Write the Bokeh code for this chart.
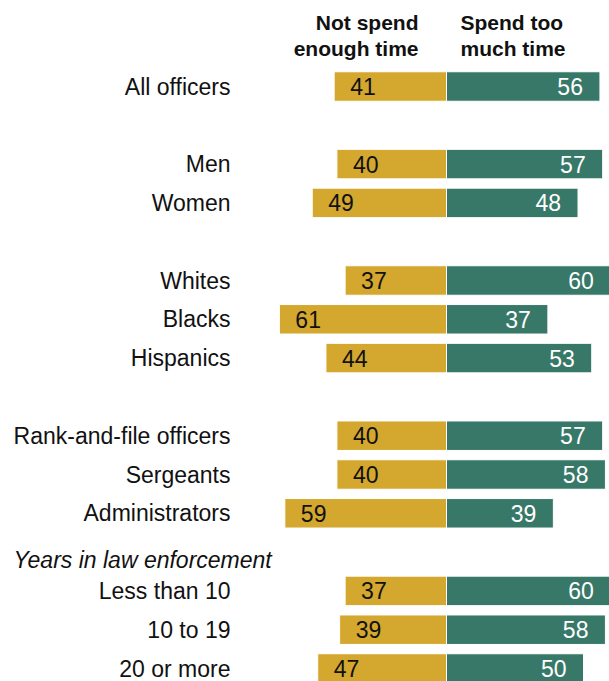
from bokeh.plotting import figure
from bokeh.models import Range1d, ColumnDataSource, Label
from bokeh.core.properties import value
from bokeh.embed import file_html
from bokeh.resources import INLINE

# ---- data ----
groups = [
    ["All officers"],
    ["Men", "Women"],
    ["Whites", "Blacks", "Hispanics"],
    ["Rank-and-file officers", "Sergeants", "Administrators"],
    ["Less than 10", "10 to 19", "20 or more"],
]
group_heading = [None, None, None, None, "Years in law enforcement"]
not_enough = [41, 40, 49, 37, 61, 44, 40, 40, 59, 37, 39, 47]
too_much = [56, 57, 48, 60, 37, 53, 57, 58, 39, 60, 58, 50]
header_left = ["Not spend", "enough time"]
header_right = ["Spend too", "much time"]

# ---- layout ----
W, H = 609, 681
PX_PER_UNIT = 2.74
CENTER_PX = 446
ROW_PX = 38.8
FIRST_ROW_PX = 86
GOLD = "#D4A72F"
TEAL = "#387868"
FONT = "Liberation Sans"

categories, rows, heading_rows, headings = [], [], [], []
r = -2
for gi, g in enumerate(groups):
    r += 1
    if group_heading[gi]:
        heading_rows.append(r)
        headings.append(group_heading[gi])
    r += 1
    for c in g:
        categories.append(c)
        rows.append(r)
        r += 1
    r -= 1

src = ColumnDataSource(dict(
    y=rows, cat=categories,
    ne_left=[-v for v in not_enough],
    tm=too_much,
    ne_txt=[str(v) for v in not_enough],
    tm_txt=[str(v) for v in too_much],
    zero=[0] * len(rows),
    label_x=[(230 - CENTER_PX) / PX_PER_UNIT] * len(rows),
))

p = figure(width=W, height=H, output_backend="svg", toolbar_location=None,
           x_range=Range1d(-CENTER_PX / PX_PER_UNIT, (W - CENTER_PX) / PX_PER_UNIT),
           y_range=Range1d((H - FIRST_ROW_PX) / ROW_PX, -FIRST_ROW_PX / ROW_PX),
           min_border=0, outline_line_color=None,
           background_fill_color="white", border_fill_color="white")
p.axis.visible = False
p.xgrid.visible = False
p.ygrid.visible = False

p.hbar(y="y", left="ne_left", right="zero", height=0.76, source=src,
       fill_color=GOLD, line_color="white", line_width=1)
p.hbar(y="y", left="zero", right="tm", height=0.76, source=src,
       fill_color=TEAL, line_color="white", line_width=1)

common = dict(text_baseline="middle", text_font=value(FONT), text_font_size="23px")
p.text(x="ne_left", y="y", text="ne_txt", source=src, x_offset=16,
       text_align="left", text_color="#111111", **common)
p.text(x="tm", y="y", text="tm_txt", source=src, x_offset=-17,
       text_align="right", text_color="white", **common)
p.text(x="label_x", y="y", text="cat", source=src,
       text_align="right", text_color="#111111", **common)

hsrc = ColumnDataSource(dict(y=heading_rows, t=headings,
                             x=[(13 - CENTER_PX) / PX_PER_UNIT] * len(headings)))
p.text(x="x", y="y", text="t", source=hsrc, y_offset=8,
       text_align="left", text_color="#111111", text_font_style="italic", **common)

for i, (tl, tr) in enumerate(zip(header_left, header_right)):
    yc = H - (22 + 26 * i)
    p.add_layout(Label(x=418, y=yc, x_units="screen", y_units="screen", text=tl,
                       text_align="right", text_baseline="middle",
                       text_font=FONT, text_font_size="21px", text_font_style="bold",
                       text_color="#111111"))
    p.add_layout(Label(x=460, y=yc, x_units="screen", y_units="screen", text=tr,
                       text_align="left", text_baseline="middle",
                       text_font=FONT, text_font_size="21px", text_font_style="bold",
                       text_color="#111111"))

open("out.html", "w").write(file_html(p, INLINE))
